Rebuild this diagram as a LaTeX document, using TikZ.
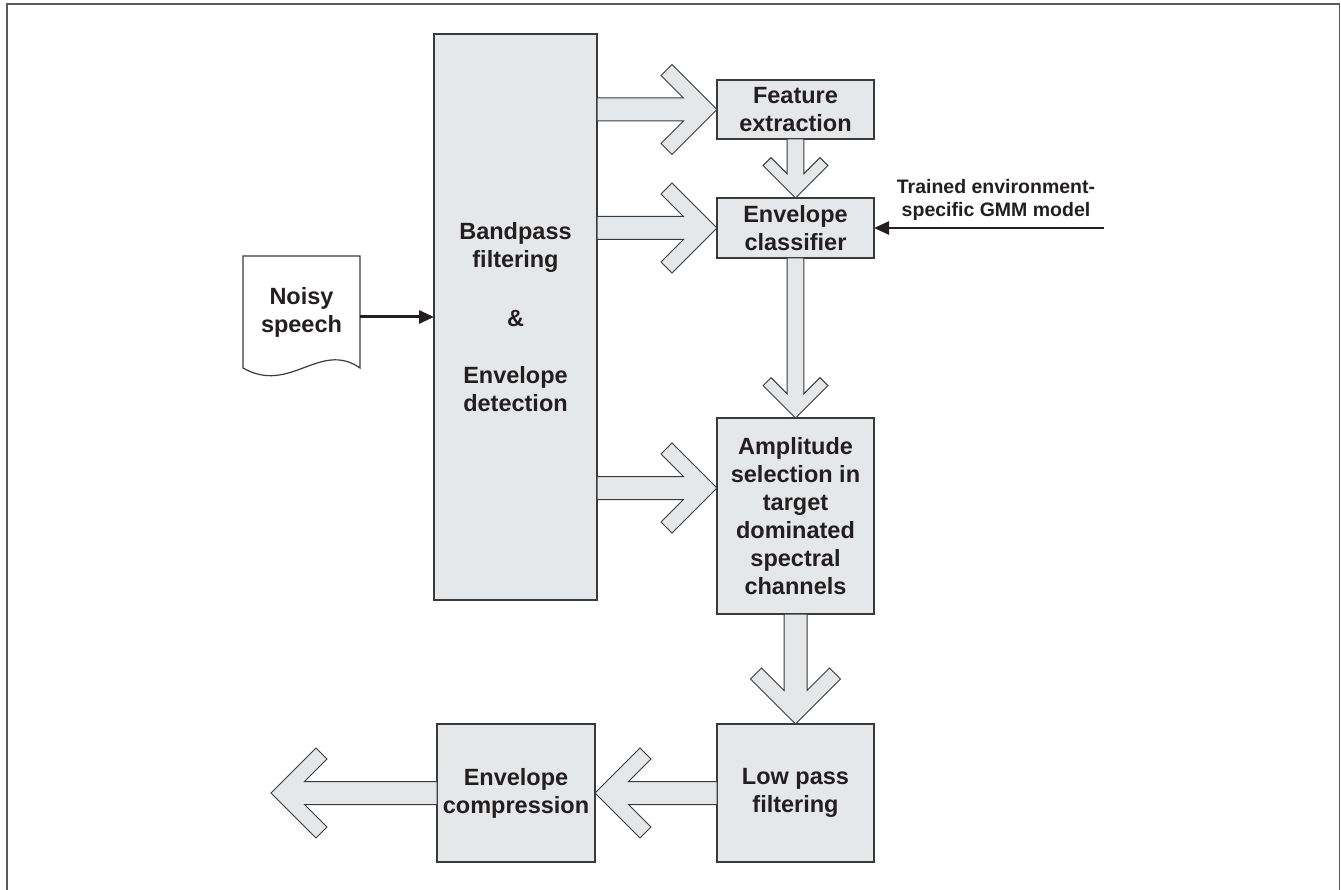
\documentclass[tikz,border=0pt]{standalone}
\usepackage{fontspec}
\setmainfont{Liberation Sans}
\usetikzlibrary{arrows.meta}
\usetikzlibrary{positioning}
\usetikzlibrary{calc}

\definecolor{boxfill}{HTML}{E6E7E8}
\definecolor{boxline}{HTML}{3A3A3A}
\definecolor{inktext}{HTML}{231F20}
\definecolor{framegray}{HTML}{5A5A5A}

% wide hollow arrow from #2 to #3, #1 scales the head
\newcommand{\fatarrow}[3][1]{%
  \draw[fatarr] let \p1=(#2), \p2=(#3),
    \n1={atan2(\y2-\y1,\x2-\x1)}, \n2={veclen(\x2-\x1,\y2-\y1)} in
    [shift={(\p2)}, rotate=\n1]
    (0,0) -- ({-45*#1},{45*#1}) -- ({-56*#1},{34*#1}) -- ({-33.5*#1},{11.5*#1})
    -- ({-\n2},{11.5*#1}) -- ({-\n2},{-11.5*#1}) -- ({-33.5*#1},{-11.5*#1})
    -- ({-56*#1},{-34*#1}) -- ({-45*#1},{-45*#1}) -- cycle;}

\begin{document}
\begin{tikzpicture}[x=1pt, y=-1pt, >={Triangle[length=15pt,width=13pt]},
  box/.style={draw=boxline, fill=boxfill, line width=1.4pt, align=center, text=inktext,
    inner sep=0pt, outer sep=0pt, font=\fontsize{23.5pt}{28pt}\selectfont\bfseries},
  fatarr/.style={draw=boxline, fill=boxfill, line width=1pt, line join=miter},
  thinarr/.style={->, line width=3pt, draw=inktext}]
  \useasboundingbox (0,0) rectangle (1341,890);
  \draw[framegray, line width=1.8pt, line join=miter] (7,890) -- (7,4) -- (1339.5,4) -- (1339.5,890);

  \node[box, minimum width=163pt, minimum height=566pt] (bp) at (515.5,317)
    {Bandpass\\ filtering\\[31pt] \&\\[29pt] Envelope\\ detection};
  \node[box, minimum width=157pt, minimum height=59pt] (fe) at (795.5,109.5) {Feature\\ extraction};
  \node[box, minimum width=157pt, minimum height=60pt, below=59pt of fe] (ec) {Envelope\\ classifier};
  \node[box, minimum width=157pt, minimum height=196pt, below=160pt of ec] (as)
    {Amplitude\\ selection in\\ target\\ dominated\\ spectral\\ channels};
  \node[box, minimum width=157pt, minimum height=138pt, below=110pt of as] (lp) {Low pass\\ filtering};
  \node[box, minimum width=158pt, minimum height=138pt, left=122pt of lp] (cp) {Envelope\\ compression};

  % input document
  \node[minimum width=117pt, minimum height=112pt, inner sep=0pt, outer sep=0pt, align=center, text=inktext,
    font=\fontsize{23.5pt}{28pt}\selectfont\bfseries] (ns) at (301.5,312) {Noisy\\ speech};
  \draw[draw=boxline, line width=1.2pt] (ns.north west) -- (ns.north east) -- (ns.south east)
    .. controls +(-40,-28) and +(47,27) .. (ns.south west) -- cycle;
  \draw[thinarr] (ns.east |- bp.west) -- (bp.west);

  % GMM input
  \coordinate (gmmin) at (1104,228);
  \node[align=center, text=inktext, font=\fontsize{19.5pt}{23.5pt}\selectfont\bfseries] (gmm)
    at (996,200) {Trained environment-\\ specific GMM model};
  \draw[thinarr, line width=2.5pt] (gmmin) -- (ec.east);

  \coordinate (asin) at ([yshift=28pt]as.west);
  \coordinate[left=166pt of cp.west] (out);
  \fatarrow{bp.east |- fe.west}{fe.west}
  \fatarrow{bp.east |- ec.west}{ec.west}
  \fatarrow{bp.east |- asin}{asin}
  \fatarrow[0.72]{fe.south}{ec.north}
  \fatarrow[0.72]{ec.south}{as.north}
  \fatarrow{as.south}{lp.north}
  \fatarrow{lp.west}{cp.east}
  \fatarrow{cp.west}{out}
\end{tikzpicture}
\end{document}
